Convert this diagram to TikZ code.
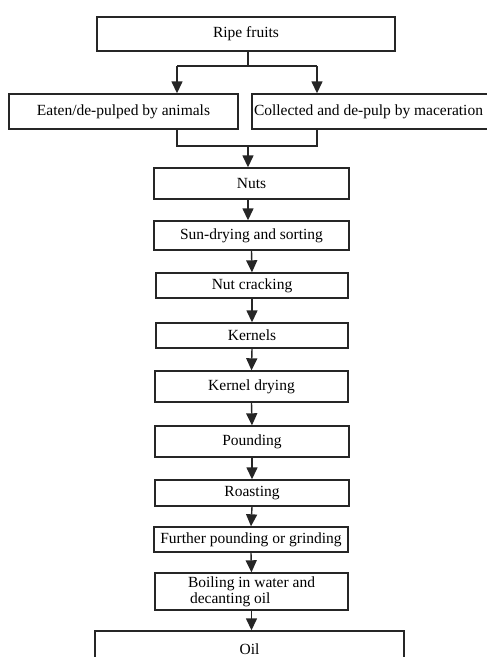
\documentclass[tikz,border=0pt]{standalone}
\usepackage{fontspec}
\setmainfont{Liberation Serif}
\usetikzlibrary{arrows.meta}
\begin{document}
\begin{tikzpicture}[x=1pt,y=-1pt,
  box/.style={draw=black!85,line width=1.4pt,fill=white,inner sep=1pt,
    font=\fontsize{15.5}{16}\selectfont,anchor=center},
  link/.style={draw=black!85,line width=1.4pt},
  arr/.style={link,-{Triangle[length=12pt,width=11pt]}}]
\useasboundingbox (0,0) rectangle (487,657);
\node[box,minimum width=298pt,minimum height=34pt] (ripe) at (246,34) {Ripe fruits};
\node[box,minimum width=229pt,minimum height=35pt] (eaten) at (123.5,111.5) {Eaten/de-pulped by animals};
\node[box,inner xsep=2pt,text width=236pt,align=flush left,minimum height=35pt] (col) at (372,111.5) {Collected and de-pulp by maceration};
\node[box,minimum width=195pt,minimum height=31pt] (nuts) at (251.5,183.5) {Nuts};
\node[box,minimum width=195pt,minimum height=29pt] (sun) at (251.5,235.5) {Sun-drying and sorting};
\node[box,minimum width=192pt,minimum height=25pt] (crack) at (252,285.5) {Nut cracking};
\node[box,minimum width=192pt,minimum height=25pt] (kern) at (252,335.5) {Kernels};
\node[box,minimum width=193pt,minimum height=31pt] (kdry) at (251.5,386.5) {Kernel drying};
\node[box,minimum width=194pt,minimum height=31pt] (pound) at (252,441.5) {Pounding};
\node[box,minimum width=194pt,minimum height=26pt] (roast) at (252,493) {Roasting};
\node[box,minimum width=194pt,minimum height=25pt] (further) at (251,539.5) {Further pounding or grinding};
\node[box,minimum width=193pt,minimum height=37pt,align=left] (boil) at (251.5,591.5) {Boiling in water and\\\hspace*{2pt}decanting oil};
\node[box,minimum width=309pt,minimum height=36pt] (oil) at (249.5,649) {Oil};
\coordinate (sm) at (248,66);
\coordinate (sl) at (177,66);
\coordinate (sr) at (317,66);
\coordinate (jl) at (177,146);
\coordinate (jr) at (317,146);
\coordinate (jm) at (248,146);
\draw[link] (ripe.south -| sm) -- (sm);
\draw[link] (sl) -- (sr);
\draw[arr] (sl) -- (sl |- eaten.north);
\draw[arr] (sr) -- (sr |- col.north);
\draw[link] (jl |- eaten.south) -- (jl) -- (jr) -- (jr |- col.south);
\draw[arr] (jm) -- (jm |- nuts.north);
\draw[arr] (nuts.south -| jm) -- (sun.north -| jm);
\draw[arr] (sun.south) -- (crack.north);
\draw[arr] (crack.south) -- (kern.north);
\draw[arr] (kern.south) -- (kdry.north);
\draw[arr] (kdry.south) -- (pound.north);
\draw[arr] (pound.south) -- (roast.north);
\draw[arr] (roast.south) -- (further.north);
\draw[arr] (further.south) -- (boil.north);
\draw[arr] (boil.south) -- (boil.south |- oil.north);
\end{tikzpicture}
\end{document}
